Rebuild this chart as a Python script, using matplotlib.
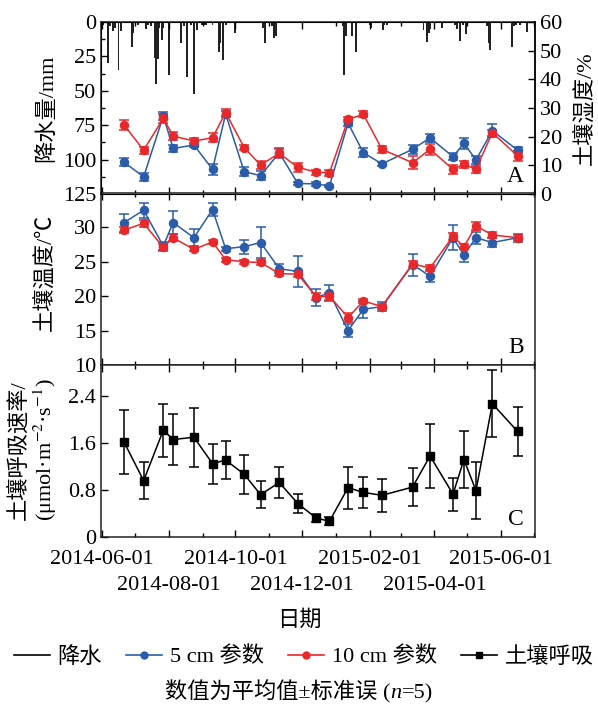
import matplotlib
matplotlib.use("Agg")
import matplotlib.pyplot as plt
import matplotlib.dates as mdates
from matplotlib.lines import Line2D
import pandas as pd

plt.rcParams['font.family'] = ['Liberation Serif', 'Noto Sans CJK SC', 'DejaVu Sans']
plt.rcParams['mathtext.fontset'] = 'stix'
plt.rcParams['font.size'] = 16
plt.rcParams['axes.unicode_minus'] = False

# 日降水 (mm)
rain_dates = ["2014-06-02", "2014-06-06", "2014-06-08", "2014-06-11", "2014-06-13", "2014-06-16",
              "2014-06-18", "2014-06-28", "2014-06-29", "2014-07-04", "2014-07-11", "2014-07-13",
              "2014-07-16", "2014-07-19", "2014-07-20", "2014-07-22", "2014-07-23", "2014-07-26",
              "2014-07-27", "2014-08-01", "2014-08-12", "2014-08-15", "2014-08-18", "2014-08-21",
              "2014-08-24", "2014-08-27", "2014-08-31", "2014-09-03", "2014-09-04", "2014-09-10",
              "2014-09-16", "2014-09-17", "2014-09-20", "2014-09-22", "2014-09-24", "2014-10-01",
              "2014-10-19", "2014-10-26", "2014-10-28", "2014-11-03", "2014-11-05", "2014-11-07",
              "2015-01-07", "2015-01-08", "2015-01-10", "2015-01-16", "2015-01-19", "2015-02-01",
              "2015-02-02", "2015-02-13", "2015-02-14", "2015-02-17", "2015-03-22", "2015-03-25",
              "2015-03-27", "2015-03-28", "2015-04-08", "2015-04-20", "2015-04-22", "2015-04-24",
              "2015-04-27", "2015-04-30", "2015-05-19", "2015-05-21", "2015-05-22", "2015-06-11",
              "2015-06-13", "2015-06-15", "2015-06-18", "2015-06-25"]
rain_mm = [2, 29.6, 3, 6.5, 4.6, 34.9,
           6.5, 17.9, 8, 2, 5, 2,
           3, 25.9, 45.3, 27, 4, 13,
           4, 38.5, 15.5, 3, 39.7, 2,
           52.5, 5.5, 2.5, 2, 2, 2,
           21.6, 15.5, 27.6, 2.5, 1, 7.8,
           1, 4, 15, 3, 11.4, 10,
           3, 38.5, 10, 10, 22, 2,
           4, 5.5, 2, 2, 5.5, 14.3,
           7.7, 5, 4, 2, 5, 13.8,
           2, 8.7, 3, 15.5, 20.3, 18.4,
           3, 2, 2, 7.3]

# 采样日期
dates = ["2014-06-21", "2014-07-09", "2014-07-27", "2014-08-05", "2014-08-24", "2014-09-10",
         "2014-09-22", "2014-10-09", "2014-10-24", "2014-11-10", "2014-11-27", "2014-12-14",
         "2014-12-26", "2015-01-12", "2015-01-26", "2015-02-12", "2015-03-12", "2015-03-28",
         "2015-04-18", "2015-04-28", "2015-05-09", "2015-05-24", "2015-06-16"]

# 土壤湿度 (%)
moist_5 = [11.1, 6.0, 27.2, 15.9, 17.1, 8.6, 27.9, 7.8, 6.4, 14.4, 3.7, 3.5,
           2.8, 24.7, 14.4, 10.5, 15.6, 19.6, 13.0, 17.7, 11.9, 22.1, 15.3]
moist_5_se = [1.4, 1.5, 1.5, 1.2, 0.8, 1.8, 1.0, 1.5, 1.5, 1.5, 0.6, 0.6,
              0.4, 1.0, 1.5, 0.8, 1.5, 1.3, 1.3, 2.0, 1.3, 2.2, 1.0]
moist_10 = [24.1, 15.3, 26.4, 20.2, 18.5, 19.6, 28.4, 16.2, 10.1, 14.2, 9.3, 7.6,
            7.4, 26.0, 27.8, 15.6, 10.9, 15.6, 8.6, 10.4, 8.6, 21.4, 13.3]
moist_10_se = [1.8, 1.2, 1.6, 1.3, 1.0, 1.6, 1.2, 0.9, 1.4, 1.5, 1.5, 0.9,
               1.0, 1.0, 1.0, 1.2, 2.2, 2.0, 1.5, 1.2, 1.3, 1.0, 1.8]

# 土壤温度 (℃)
temp_5 = [30.7, 32.5, 27.3, 30.7, 28.5, 32.6, 26.9, 27.2, 27.8, 24.0, 23.6, 19.8,
          20.5, 15.0, 18.1, 18.5, 24.6, 22.9, 28.5, 26.0, 28.5, 27.8, 28.5]
temp_5_se = [1.3, 1.1, 0.6, 1.7, 1.2, 0.9, 0.3, 1.0, 2.3, 0.7, 2.3, 1.2,
             1.2, 1.0, 1.2, 0.6, 1.6, 0.9, 1.8, 1.0, 0.9, 0.7, 0.6]
temp_10 = [29.6, 30.6, 27.1, 28.5, 26.8, 27.9, 25.3, 25.0, 24.9, 23.3, 23.2, 19.9,
           20.0, 16.9, 19.3, 18.5, 24.7, 24.1, 28.7, 27.2, 30.2, 28.9, 28.5]
temp_10_se = [0.4, 0.5, 0.5, 0.5, 0.3, 0.3, 0.3, 0.3, 0.3, 0.3, 0.4, 0.5,
              0.5, 0.7, 0.3, 0.4, 0.4, 0.4, 0.5, 0.4, 0.6, 0.4, 0.4]

# 土壤呼吸速率 (μmol·m-2·s-1)
resp = [1.62, 0.96, 1.82, 1.66, 1.70, 1.25, 1.31, 1.07, 0.72, 0.93, 0.57, 0.32,
        0.27, 0.84, 0.76, 0.71, 0.85, 1.38, 0.73, 1.32, 0.79, 2.27, 1.80]
resp_se = [0.55, 0.31, 0.45, 0.44, 0.50, 0.34, 0.33, 0.33, 0.23, 0.27, 0.16, 0.07,
           0.07, 0.36, 0.26, 0.28, 0.32, 0.54, 0.28, 0.49, 0.49, 0.57, 0.42]

# x 轴刻度: 两行交错
tick_row1 = ["2014-06-01", "2014-10-01", "2015-02-01", "2015-06-01"]
tick_row2 = ["2014-08-01", "2014-12-01", "2015-04-01"]

rain_dates = pd.to_datetime(rain_dates)
dates = pd.to_datetime(dates)
row1 = pd.to_datetime(tick_row1)
row2 = pd.to_datetime(tick_row2)
all_ticks = sorted(list(row1) + list(row2))

blue = "#2a5caa"
red = "#e8282b"

W, H = 598, 709
fig = plt.figure(figsize=(W / 100, H / 100), dpi=100)

left = 101 / W
width = (535 - 101) / W
ph = 172 / H
ax_a = fig.add_axes([left, 1 - 194 / H, width, ph])
ax_b = fig.add_axes([left, 1 - 365 / H, width, ph])
ax_c = fig.add_axes([left, 1 - 537 / H, width, ph])

xmin = pd.Timestamp("2014-05-31")
xmax = pd.Timestamp("2015-07-02")

for ax in [ax_a, ax_b, ax_c]:
    ax.set_xlim(xmin, xmax)
    ax.set_xticks(all_ticks)
    ax.set_xticklabels([""] * len(all_ticks))
    ax.xaxis.set_minor_locator(mdates.MonthLocator())
    ax.tick_params(axis="x", which="both", direction="in", top=True, bottom=True)
    ax.tick_params(axis="x", which="major", length=5, width=1)
    ax.tick_params(axis="x", which="minor", length=3, width=1)
    ax.tick_params(axis="y", which="both", direction="in", right=False, width=1)
    ax.tick_params(axis="y", which="major", length=5)
    ax.tick_params(axis="y", which="minor", length=3)
    for s in ax.spines.values():
        s.set_linewidth(1.1)
        s.set_color("#222222")

# A: 降水 + 土壤湿度
ax_a.bar(rain_dates, rain_mm, width=1.8, color="#222222", linewidth=0)
ax_a.set_ylim(125, 0)
ax_a.set_yticks([0, 25, 50, 75, 100, 125])
ax_a.set_yticks([12.5, 37.5, 62.5, 87.5, 112.5], minor=True)

ax_a2 = ax_a.twinx()
ax_a2.errorbar(dates, moist_5, yerr=moist_5_se, fmt="-o", color=blue, ms=5.8, lw=1.1,
               capsize=3.5, elinewidth=1.1, capthick=1.1)
ax_a2.errorbar(dates, moist_10, yerr=moist_10_se, fmt="-o", color=red, ms=5.8, lw=1.1,
               capsize=3.5, elinewidth=1.1, capthick=1.1)
ax_a2.set_ylim(0, 60)
ax_a2.set_yticks([0, 10, 20, 30, 40, 50, 60])
ax_a2.tick_params(axis="y", direction="in", length=5, width=1)
ax_a2.spines["right"].set_linewidth(1.1)
ax_a.text(0.975, 0.04, "A", transform=ax_a.transAxes, ha="right", va="bottom", fontsize=17)

# B: 土壤温度
ax_b.errorbar(dates, temp_5, yerr=temp_5_se, fmt="-o", color=blue, ms=5.8, lw=1.1,
              capsize=3.5, elinewidth=1.1, capthick=1.1)
ax_b.errorbar(dates, temp_10, yerr=temp_10_se, fmt="-o", color=red, ms=5.8, lw=1.1,
              capsize=3.5, elinewidth=1.1, capthick=1.1)
ax_b.set_ylim(10, 35)
ax_b.set_yticks([10, 15, 20, 25, 30])
ax_b.text(0.975, 0.04, "B", transform=ax_b.transAxes, ha="right", va="bottom", fontsize=17)

# C: 土壤呼吸
ax_c.errorbar(dates, resp, yerr=resp_se, fmt="-s", color="black", ms=5.8, lw=1.1,
              capsize=3.5, elinewidth=1.1, capthick=1.1)
ax_c.set_ylim(0, 2.93)
ax_c.set_yticks([0, 0.8, 1.6, 2.4])
ax_c.set_yticklabels(["0", "0.8", "1.6", "2.4"])
ax_c.set_xticklabels([d.strftime("%Y-%m-%d") if d in list(row1) else "" for d in all_ticks])
ax_c.tick_params(axis="x", which="major", pad=9)
ax_c.text(0.975, 0.04, "C", transform=ax_c.transAxes, ha="right", va="bottom", fontsize=17)

# 第二行日期标签
sec = ax_c.secondary_xaxis("bottom")
sec.set_xticks(row2)
sec.set_xticklabels(tick_row2)
sec.tick_params(axis="x", length=0, pad=28)
sec.spines["bottom"].set_visible(False)

# 轴标题
fig.text(47 / W, 1 - 108 / H, "降水量/mm", rotation=90, ha="center", va="center")
fig.text(585 / W, 1 - 108 / H, "土壤湿度/%", rotation=90, ha="center", va="center")
fig.text(45 / W, 1 - 272 / H, "土壤温度/℃", rotation=90, ha="center", va="center")
fig.text(34 / W, 1 - 450 / H, "土壤呼吸速率/\n(μmol·m$^{-2}$·s$^{-1}$)", rotation=90,
         ha="center", va="center", multialignment="center", linespacing=1.1)
fig.text(0.5, 1 - 621 / H, "日期", ha="center", va="center")

handles = [
    Line2D([], [], color="black", lw=1.2),
    Line2D([], [], color=blue, lw=1.2, marker="o", ms=5),
    Line2D([], [], color=red, lw=1.2, marker="o", ms=5),
    Line2D([], [], color="black", lw=1.2, marker="s", ms=5),
]
fig.legend(handles, ["降水", "5 cm 参数", "10 cm 参数", "土壤呼吸"], ncol=4, loc="center",
           bbox_to_anchor=(0.508, 1 - 657 / H), frameon=False, handlelength=1.6,
           handletextpad=0.35, columnspacing=1.1, borderaxespad=0)

# 脚注: 斜体 n
y_note = 1 - 698 / H
parts = [("数值为平均值±标准误 (", "normal"), ("n", "italic"), ("=5)", "normal")]
txts = [fig.text(0, y_note, s, style=st, va="baseline") for s, st in parts]
renderer = fig.canvas.get_renderer()
ws = [t.get_window_extent(renderer).width for t in txts]
x0 = (W - sum(ws)) / 2
for t, w in zip(txts, ws):
    t.set_x(x0 / W)
    x0 += w

fig.savefig("out.png", dpi=100)
